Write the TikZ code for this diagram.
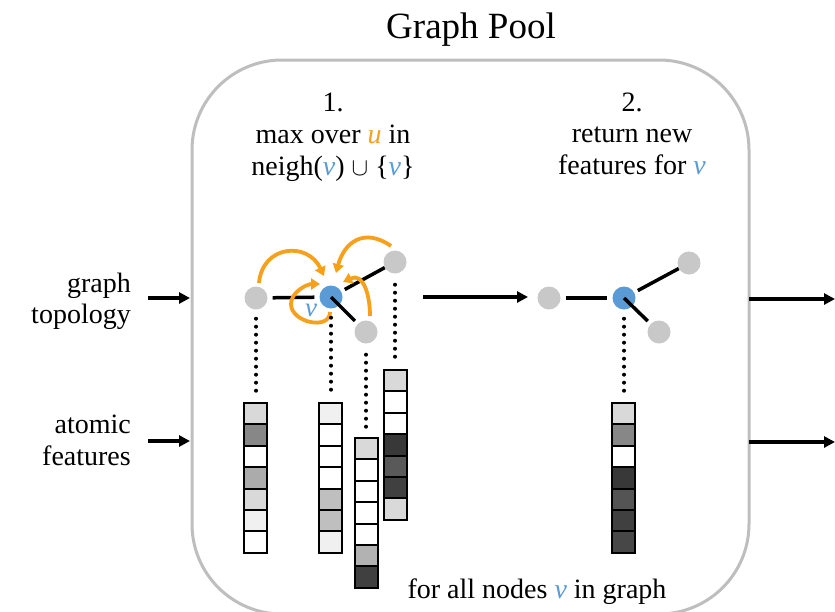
\documentclass[tikz,border=0pt]{standalone}
\usepackage{fontspec}
\setmainfont{Liberation Serif}
\usetikzlibrary{arrows.meta}
\definecolor{orng}{RGB}{247,160,28}
\definecolor{vblue}{RGB}{91,155,213}
\definecolor{ngray}{RGB}{200,200,200}
\definecolor{boxgray}{RGB}{190,190,190}
\tikzset{
 txt/.style={font=\fontsize{28}{32}\selectfont, inner sep=0pt, anchor=base},
 lbl/.style={font=\fontsize{28}{32}\selectfont, inner sep=0pt, anchor=base east},
 gnode/.style={circle, fill=ngray, minimum size=23pt, inner sep=0pt},
 bnode/.style={circle, fill=vblue, minimum size=23pt, inner sep=0pt},
 gedge/.style={line width=3.5pt, black},
 bigarrow/.style={line width=3.5pt, -{Triangle[length=11pt,width=11pt]}},
 oarrow/.style={line width=3.8pt, orng, -{Triangle[length=9pt,width=11pt]}},
 dotline/.style={line width=4pt, line cap=round, dash pattern=on 0pt off 8pt},
 cell/.style={draw=black, line width=2pt},
}
\newcommand{\uu}{\textcolor{orng}{\textit{u}}}
\newcommand{\vv}{\textcolor{vblue}{\textit{v}}}
\newcommand{\featcol}[3]{%
  \foreach \c [count=\i from 0] in {#3}{
    \filldraw[cell, fill=\c] (#1,{-#2-\i*21.4}) rectangle ++(23,-21.4);
  }
  \draw[line width=2.6pt] (#1,-#2) rectangle ++(23,-149.8);
}
\begin{document}
\begin{tikzpicture}[x=1pt,y=1pt]
\useasboundingbox (0,0) rectangle (835,-611);
\fill[white] (0,0) rectangle (835,-611);

% title and frame
\node[font=\fontsize{37}{40}\selectfont, inner sep=0pt, anchor=base] (title) at (471,-38) {Graph Pool};
\draw[boxgray, line width=3pt, rounded corners=90pt] (192,-60) rectangle (749,-614);

% step texts
\node[txt] (s1a) at (333,-111) {1.};
\node[txt] (s1b) at (333,-143) {max over \uu{} in};
\node[txt] (s1c) at (333,-175) {neigh(\vv) $\cup$ \{\vv\}};
\node[txt] (s2a) at (632,-111) {2.};
\node[txt] (s2b) at (632,-142) {return new};
\node[txt] (s2c) at (632,-174) {features for \vv};
\node[txt] (foot) at (537,-598) {for all nodes \vv{} in graph};

% left labels
\node[lbl] (l1) at (131,-292) {graph};
\node[lbl] (l2) at (131,-323) {topology};
\node[lbl] (l3) at (131,-433) {atomic};
\node[lbl] (l4) at (131,-465) {features};

% arrows in / out / middle
\coordinate (i1) at (148,-298); \coordinate (i1e) at (190,-298);
\coordinate (i2) at (148,-441); \coordinate (i2e) at (190,-441);
\coordinate (m1) at (423,-297); \coordinate (m1e) at (528,-297);
\coordinate (o1) at (749,-299); \coordinate (o1e) at (835,-299);
\coordinate (o2) at (749,-442); \coordinate (o2e) at (835,-442);
\draw[bigarrow] (i1) -- (i1e);
\draw[bigarrow] (i2) -- (i2e);
\draw[bigarrow] (m1) -- (m1e);
\draw[bigarrow] (o1) -- (o1e);
\draw[bigarrow] (o2) -- (o2e);

% graph 1
\node[gnode] (a1) at (256,-298) {};
\node[bnode] (v1) at (331,-297) {};
\node[gnode] (t1) at (395,-262) {};
\node[gnode] (b1) at (366,-332) {};
\draw[gedge, shorten <=5pt, shorten >=5pt] (a1) -- (v1);
\draw[gedge, shorten <=4pt] (v1) -- (t1);
\draw[gedge, shorten >=4pt] (v1.center) -- (b1);

% orange arrows
\draw[oarrow] (259,-283) to[out=85, in=115, looseness=1.5] (324,-276);
\draw[oarrow] (391,-246) to[out=145, in=75, looseness=1.35] (336,-273);
\draw[oarrow] (370,-316) to[out=90, in=25, looseness=1.3] (343,-282);
\draw[oarrow] (330,-312) to[out=-90, in=-90, looseness=1.2] (291,-304) to[out=90, in=180, looseness=0.9] (320,-284);
\node[font=\fontsize{27}{30}\selectfont\itshape, text=vblue, inner sep=0pt] (vl) at (311,-310) {v};

% graph 2
\node[gnode] (a2) at (549,-298) {};
\node[bnode] (v2) at (624,-298) {};
\node[gnode] (t2) at (689,-263) {};
\node[gnode] (b2) at (659,-332) {};
\draw[gedge, shorten <=5pt, shorten >=5pt] (a2) -- (v2);
\draw[gedge, shorten <=4pt] (v2) -- (t2);
\draw[gedge, shorten >=4pt] (v2.center) -- (b2);

% dotted links
\draw[dotline] ([yshift=-9pt]a1.south) -- ++(0,-74);
\draw[dotline] ([yshift=-9pt]v1.south) -- ++(0,-74);
\draw[dotline] ([yshift=-11pt]b1.south) -- ++(0,-72);
\draw[dotline] ([yshift=-11pt]t1.south) -- ++(0,-77);
\draw[dotline] ([yshift=-9pt]v2.south) -- ++(0,-76);

% feature columns
\featcol{244}{403}{black!15,black!47,white,black!33,black!15,black!6,white}
\featcol{319}{403}{black!6,white,white,white,black!25,black!25,black!6}
\featcol{355}{438}{black!15,white,white,white,white,black!30,black!75}
\featcol{384}{370}{black!15,white,white,black!78,black!65,black!75,black!15}
\featcol{612}{403}{black!15,black!47,white,black!78,black!67,black!75,black!72}
\end{tikzpicture}
\end{document}
